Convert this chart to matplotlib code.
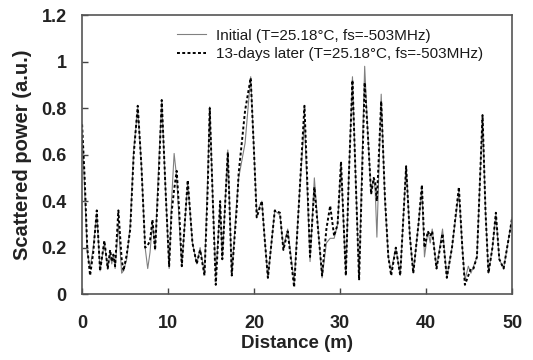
import numpy as np
import matplotlib
matplotlib.use("Agg")
import matplotlib.pyplot as plt

plt.rcParams['font.family'] = ['Liberation Sans', 'DejaVu Sans']

# distance (m) and scattered power
distance = [0.0, 0.3, 0.6, 0.93, 1.3, 1.71, 2.09, 2.59, 2.98, 3.26, 3.45, 3.64, 3.84,
            4.22, 4.6, 4.81, 5.19, 5.6, 6.0, 6.47, 6.9, 7.33, 7.63, 7.9, 8.18, 8.49,
            8.9, 9.26, 9.7, 10.12, 10.4, 10.7, 11.0, 11.3, 11.59, 12.28, 12.83, 13.33,
            13.72, 14.23, 14.6, 14.84, 15.2, 15.54, 16.05, 16.3, 16.94, 17.4, 17.98,
            18.2, 18.95, 19.6, 20.0, 20.3, 20.9, 21.2, 21.6, 22.4, 23.0, 23.4, 23.9,
            24.65, 25.3, 25.85, 26.5, 27.0, 27.5, 27.9, 28.4, 28.84, 29.3, 29.7, 30.1,
            30.66, 31.0, 31.43, 31.8, 32.2, 32.5, 32.85, 33.2, 33.6, 33.9, 34.07, 34.27,
            34.77, 35.2, 35.6, 35.93, 36.47, 36.98, 37.67, 38.1, 38.5, 39.1, 39.5, 39.8,
            40.2, 40.47, 40.7, 41.2, 41.9, 42.4, 43.0, 43.8, 44.2, 44.5, 44.9, 45.2,
            45.5, 45.9, 46.55, 46.9, 47.24, 47.7, 48.1, 48.5, 49.0, 49.5, 50.0]

initial = [0.70, 0.45, 0.18, 0.11, 0.20, 0.35, 0.10, 0.22, 0.11, 0.18, 0.13, 0.17, 0.11,
           0.30, 0.09, 0.10, 0.15, 0.30, 0.62, 0.80, 0.55, 0.20, 0.11, 0.18, 0.31, 0.19,
           0.55, 0.83, 0.45, 0.11, 0.40, 0.605, 0.50, 0.30, 0.12, 0.48, 0.22, 0.13,
           0.20, 0.09, 0.50, 0.805, 0.40, 0.08, 0.38, 0.15, 0.62, 0.08, 0.40,
           0.50, 0.65, 0.935, 0.60, 0.35, 0.40, 0.25, 0.07, 0.36, 0.34, 0.20, 0.28,
           0.05, 0.45, 0.75, 0.14, 0.50, 0.25, 0.07, 0.22, 0.24, 0.24, 0.30, 0.55,
           0.08, 0.50, 0.935, 0.50, 0.07, 0.50, 0.98, 0.70, 0.43, 0.50, 0.45, 0.245,
           0.86, 0.40, 0.16, 0.10, 0.20, 0.08, 0.55, 0.25, 0.09, 0.30, 0.455, 0.16,
           0.27, 0.22, 0.28, 0.11, 0.28, 0.07, 0.20, 0.44, 0.20, 0.06, 0.12, 0.09,
           0.12, 0.16, 0.77, 0.35, 0.09, 0.20, 0.34, 0.15, 0.11, 0.22, 0.33]

later = [0.73, 0.50, 0.20, 0.08, 0.18, 0.36, 0.10, 0.23, 0.11, 0.19, 0.14, 0.17, 0.12,
         0.36, 0.15, 0.10, 0.17, 0.28, 0.60, 0.81, 0.55, 0.20, 0.21, 0.23, 0.32, 0.19,
         0.50, 0.835, 0.45, 0.12, 0.35, 0.45, 0.53, 0.35, 0.12, 0.49, 0.22, 0.13,
         0.19, 0.08, 0.45, 0.80, 0.40, 0.04, 0.40, 0.15, 0.61, 0.08, 0.37,
         0.52, 0.79, 0.93, 0.60, 0.33, 0.40, 0.25, 0.07, 0.36, 0.35, 0.19, 0.27,
         0.03, 0.45, 0.81, 0.16, 0.46, 0.25, 0.08, 0.28, 0.38, 0.25, 0.30, 0.57,
         0.08, 0.50, 0.92, 0.50, 0.06, 0.45, 0.91, 0.70, 0.43, 0.50, 0.48, 0.40,
         0.83, 0.42, 0.16, 0.08, 0.20, 0.08, 0.55, 0.25, 0.09, 0.30, 0.47, 0.20,
         0.27, 0.25, 0.27, 0.11, 0.26, 0.07, 0.20, 0.46, 0.20, 0.04, 0.08, 0.11,
         0.11, 0.16, 0.77, 0.35, 0.09, 0.20, 0.35, 0.15, 0.11, 0.22, 0.33]

labels = ['Initial (T=25.18°C, fs=-503MHz)', '13-days later (T=25.18°C, fs=-503MHz)']
xticks = [0, 10, 20, 30, 40, 50]
yticks = [0, 0.2, 0.4, 0.6, 0.8, 1.0, 1.2]
ytick_labels = ['0', '0.2', '0.4', '0.6', '0.8', '1', '1.2']

fig = plt.figure(figsize=(5.33, 3.6), dpi=100)
ax = fig.add_axes([0.154, 0.183, 0.807, 0.775])

ax.plot(distance, initial, color='#808080', lw=0.8, label=labels[0])
ax.plot(distance, later, color='black', lw=1.4, linestyle=(0, (1.5, 1.2)), label=labels[1])

ax.set_xlim(0, 50)
ax.set_ylim(0, 1.2)
ax.set_xticks(xticks)
ax.set_yticks(yticks)
ax.set_yticklabels(ytick_labels)
ax.tick_params(direction='in', length=4, width=1, colors='#444444', labelcolor='#222222')
ax.tick_params(axis='x', pad=15, labelsize=13)
ax.tick_params(axis='y', pad=11, labelsize=13)
for lbl in ax.get_xticklabels() + ax.get_yticklabels():
    lbl.set_fontweight('bold')
for s in ax.spines.values():
    s.set_color('#555555')
    s.set_linewidth(1.2)

ax.set_xlabel('Distance (m)', fontsize=13.5, fontweight='bold', color='#222222', labelpad=2)
ax.set_ylabel('Scattered power (a.u.)', fontsize=14.5, fontweight='bold', color='#222222', labelpad=7)

leg = ax.legend(loc='upper left', bbox_to_anchor=(0.221, 0.952), frameon=False,
                handlelength=1.9, handletextpad=0.65, labelspacing=0.3, borderaxespad=0,
                borderpad=0, prop={'size': 11, 'weight': 'medium'})
for t in leg.get_texts():
    t.set_color('#1a1a1a')

fig.savefig('out.png', dpi=100)
